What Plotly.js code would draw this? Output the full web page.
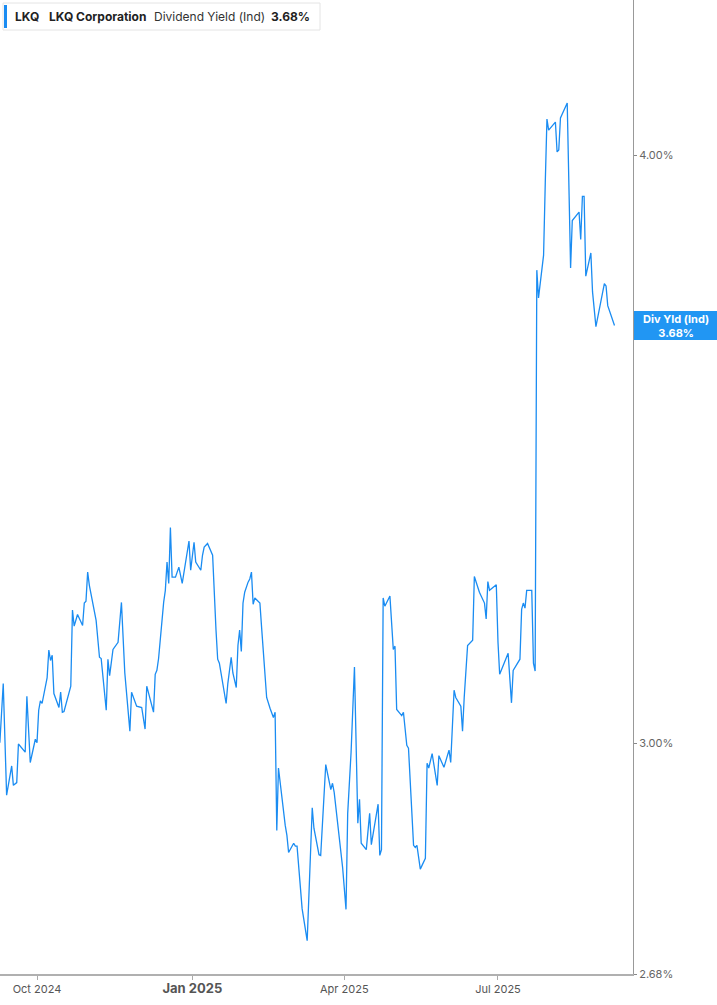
<!DOCTYPE html>
<html>
<head>
<meta charset="utf-8">
<script src="https://cdn.plot.ly/plotly-3.0.1.min.js"></script>
<style>html,body{margin:0;padding:0;background:#fff;}#chart{width:717px;height:1005px;}</style>
</head>
<body>
<div id="chart"></div>
<script>
const dates = [
"2024-09-09","2024-09-11","2024-09-13","2024-09-16","2024-09-17","2024-09-19","2024-09-20","2024-09-24","2024-09-25","2024-09-27",
"2024-09-30","2024-10-01","2024-10-02","2024-10-03","2024-10-04","2024-10-07","2024-10-08","2024-10-09","2024-10-10","2024-10-11",
"2024-10-14","2024-10-15","2024-10-16","2024-10-17","2024-10-21","2024-10-22","2024-10-23","2024-10-25","2024-10-28","2024-10-29",
"2024-10-30","2024-10-31","2024-11-01","2024-11-05","2024-11-07","2024-11-08","2024-11-11","2024-11-12","2024-11-13","2024-11-15",
"2024-11-18","2024-11-20","2024-11-22","2024-11-25","2024-11-26","2024-11-29","2024-12-02","2024-12-04","2024-12-05","2024-12-09",
"2024-12-10","2024-12-11","2024-12-12","2024-12-13","2024-12-15","2024-12-16","2024-12-17","2024-12-18","2024-12-19","2024-12-20",
"2024-12-22","2024-12-24","2024-12-26","2024-12-30","2024-12-31","2025-01-02","2025-01-03","2025-01-06","2025-01-07","2025-01-08",
"2025-01-10","2025-01-13","2025-01-14","2025-01-15","2025-01-16","2025-01-17","2025-01-21","2025-01-22","2025-01-24","2025-01-25",
"2025-01-27","2025-01-28","2025-01-29","2025-01-30","2025-01-31","2025-02-01","2025-02-03","2025-02-04","2025-02-05","2025-02-06",
"2025-02-07","2025-02-10","2025-02-11","2025-02-14","2025-02-16","2025-02-18","2025-02-19","2025-02-20","2025-02-21","2025-02-23",
"2025-02-25","2025-02-26","2025-02-27","2025-03-02","2025-03-03","2025-03-04","2025-03-07","2025-03-10","2025-03-13","2025-03-14",
"2025-03-17","2025-03-18","2025-03-21","2025-03-24","2025-03-25","2025-03-26","2025-03-28","2025-03-31","2025-04-02","2025-04-03",
"2025-04-05","2025-04-07","2025-04-09","2025-04-10","2025-04-11","2025-04-14","2025-04-16","2025-04-17","2025-04-21","2025-04-22",
"2025-04-23","2025-04-24","2025-04-25","2025-04-28","2025-04-30","2025-05-01","2025-05-02","2025-05-05","2025-05-06","2025-05-08",
"2025-05-09","2025-05-12","2025-05-13","2025-05-14","2025-05-16","2025-05-19","2025-05-20","2025-05-21","2025-05-23","2025-05-26",
"2025-05-27","2025-05-30","2025-06-02","2025-06-03","2025-06-05","2025-06-06","2025-06-09","2025-06-10","2025-06-11","2025-06-13",
"2025-06-16","2025-06-17","2025-06-20","2025-06-23","2025-06-24","2025-06-25","2025-06-26","2025-06-30","2025-07-01","2025-07-02",
"2025-07-07","2025-07-09","2025-07-10","2025-07-14","2025-07-15","2025-07-16","2025-07-17","2025-07-18","2025-07-21","2025-07-22",
"2025-07-23","2025-07-24","2025-07-25","2025-07-28","2025-07-29","2025-07-30","2025-07-31","2025-08-04","2025-08-05","2025-08-06",
"2025-08-07","2025-08-11","2025-08-13","2025-08-14","2025-08-18","2025-08-19","2025-08-20","2025-08-21","2025-08-22","2025-08-25",
"2025-08-26","2025-08-28","2025-09-02","2025-09-03","2025-09-04","2025-09-08"
];
const divYield = [
3.001,3.089,2.925,2.967,2.939,2.943,2.999,2.987,3.070,2.972,
3.006,3.001,3.049,3.063,3.059,3.098,3.140,3.124,3.132,3.074,
3.053,3.076,3.046,3.047,3.085,3.202,3.177,3.195,3.178,3.213,
3.216,3.262,3.241,3.186,3.129,3.127,3.049,3.126,3.101,3.141,
3.152,3.214,3.105,3.018,3.076,3.055,3.053,3.021,3.085,3.046,
3.103,3.109,3.127,3.160,3.214,3.233,3.278,3.244,3.334,3.254,
3.254,3.270,3.244,3.312,3.265,3.310,3.278,3.265,3.289,3.302,
3.308,3.289,3.217,3.171,3.126,3.120,3.059,3.089,3.129,3.105,
3.083,3.147,3.171,3.138,3.213,3.230,3.246,3.251,3.262,3.211,
3.221,3.213,3.175,3.068,3.052,3.038,3.046,2.875,2.964,2.918,
2.882,2.868,2.844,2.857,2.853,2.853,2.767,2.724,2.907,2.878,
2.841,2.840,2.969,2.933,2.942,2.929,2.885,2.823,2.766,2.899,
2.987,3.114,2.885,2.919,2.857,2.848,2.899,2.855,2.912,2.840,
2.848,3.221,3.208,3.224,3.141,3.146,3.050,3.041,3.046,2.997,
2.993,2.854,2.851,2.854,2.821,2.836,2.971,2.964,2.985,2.939,
2.982,2.965,2.990,2.972,3.079,3.068,3.055,3.018,3.068,3.147,
3.155,3.255,3.230,3.213,3.188,3.247,3.233,3.242,3.152,3.103,
3.135,3.060,3.109,3.126,3.203,3.213,3.205,3.233,3.233,3.120,
3.108,3.781,3.730,3.809,3.946,4.071,4.049,4.065,4.006,4.010,
4.073,4.103,3.785,3.874,3.890,3.838,3.920,3.920,3.770,3.813,
3.741,3.678,3.756,3.752,3.716,3.680
];
const yTickVals = [2.68, 3.00, 4.00];
const yTickText = ["2.68%", "3.00%", "4.00%"];
const xTickVals = ["2024-10-01", "2025-01-01", "2025-04-01", "2025-07-01"];
const xTickText = ["Oct 2024", "<span style=\"font-size:13px\"><b>Jan 2025</b></span>", "Apr 2025", "Jul 2025"];
const lastValue = "3.68%";

const W = 717, H = 1005, ML = 0, MR = 84, MT = 0, MB = 31;
const PW = W - ML - MR, PH = H - MT - MB;
const px = v => v / PW;
const py = v => 1 - v / PH;

const trace = {
  x: dates, y: divYield, type: "scatter", mode: "lines",
  line: {color: "#1a8cf2", width: 1.3}, hoverinfo: "x+y", showlegend: false
};

const FONT = "Inter, 'Noto Sans', sans-serif";
const layout = {
  width: W, height: H,
  margin: {l: ML, r: MR, t: MT, b: MB, pad: 0},
  paper_bgcolor: "#fff", plot_bgcolor: "#fff",
  font: {family: FONT, color: "#555", size: 11},
  xaxis: {
    type: "date", range: ["2024-09-09 02:00", "2025-09-18 23:00"],
    tickvals: xTickVals, ticktext: xTickText,
    ticks: "outside", ticklen: 4, tickcolor: "#aaa", tickwidth: 1,
    showline: true, linecolor: "#b0b0b0", linewidth: 2,
    showgrid: false, zeroline: false,
    tickfont: {family: FONT, size: 11, color: "#555"}, fixedrange: true
  },
  yaxis: {
    type: "log", side: "right",
    range: [Math.log10(2.68), Math.log10(4.315)],
    tickvals: yTickVals, ticktext: yTickText,
    ticks: "outside", ticklen: 3, tickcolor: "#888", tickwidth: 1,
    showline: true, linecolor: "#999", linewidth: 1,
    showgrid: false, zeroline: false,
    tickfont: {family: FONT, size: 11, color: "#666"}, fixedrange: true
  },
  shapes: [
    {type: "rect", xref: "paper", yref: "paper", x0: px(3), x1: px(320), y0: py(30), y1: py(3),
     fillcolor: "#fff", line: {color: "#e4e4e4", width: 1}},
    {type: "rect", xref: "paper", yref: "paper", x0: px(4), x1: px(7), y0: py(28), y1: py(5),
     fillcolor: "#1a8cf2", line: {width: 0}},
    {type: "rect", xref: "paper", yref: "paper", x0: px(634), x1: px(717), y0: py(340), y1: py(311),
     fillcolor: "#2196f3", line: {width: 0}}
  ],
  annotations: [
    {xref: "paper", yref: "paper", x: px(13), y: py(16.5), xanchor: "left", yanchor: "middle", showarrow: false,
     text: "<b>LKQ</b>", font: {family: FONT, size: 12, color: "#222"}},
    {xref: "paper", yref: "paper", x: px(47), y: py(16.5), xanchor: "left", yanchor: "middle", showarrow: false,
     text: "<b>LKQ Corporation</b>", font: {family: FONT, size: 12, color: "#222"}},
    {xref: "paper", yref: "paper", x: px(152), y: py(16.5), xanchor: "left", yanchor: "middle", showarrow: false,
     text: "Dividend Yield (Ind)", font: {family: FONT, size: 12, color: "#333"}},
    {xref: "paper", yref: "paper", x: px(269), y: py(16.5), xanchor: "left", yanchor: "middle", showarrow: false,
     text: "<b>" + lastValue + "</b>", font: {family: FONT, size: 12, color: "#222"}},
    {xref: "paper", yref: "paper", x: px(675.5), y: py(325.5), xanchor: "center", yanchor: "middle", showarrow: false,
     text: "<b>Div Yld (Ind)</b><br><b>" + lastValue + "</b>", font: {family: FONT, size: 11, color: "#fff"}}
  ]
};

Plotly.newPlot("chart", [trace], layout, {staticPlot: true, displayModeBar: false});
</script>
</body>
</html>
